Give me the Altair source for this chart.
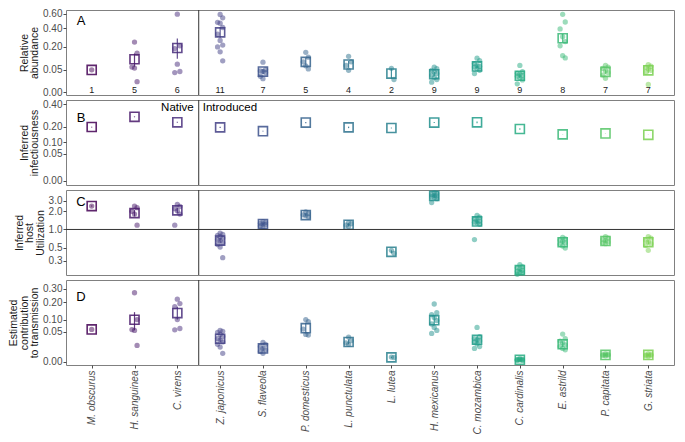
import json
import altair as alt
import pandas as pd

species = ["M. obscurus", "H. sanguinea", "C. virens", "Z. japonicus", "S. flaveola",
           "P. domesticus", "L. punctulata", "L. lutea", "H. mexicanus", "C. mozambica",
           "C. cardinalis", "E. astrild", "P. capitata", "G. striata"]
counts = [1, 5, 6, 11, 7, 5, 4, 2, 9, 9, 9, 8, 7, 7]

# Panel A: relative abundance
abund_pts = [
    [0.049],
    [0.245, 0.149, 0.062, 0.057, 0.011],
    [0.593, 0.21, 0.186, 0.077, 0.042, 0.038],
    [0.588, 0.539, 0.476, 0.463, 0.408, 0.33, 0.261, 0.217, 0.2, 0.159, 0.096],
    [0.088, 0.05, 0.045, 0.042, 0.038, 0.025, 0.018],
    [0.155, 0.12, 0.09, 0.068, 0.053],
    [0.126, 0.09, 0.07, 0.047],
    [0.056, 0.016],
    [0.062, 0.054, 0.047, 0.04, 0.034, 0.028, 0.021, 0.016, 0.01],
    [0.113, 0.098, 0.08, 0.07, 0.065, 0.062, 0.054, 0.047, 0.034],
    [0.07, 0.041, 0.035, 0.032, 0.027, 0.025, 0.02, 0.015, 0.007],
    [0.59, 0.48, 0.39, 0.3, 0.25, 0.21, 0.13, 0.115],
    [0.07, 0.062, 0.055, 0.045, 0.038, 0.029, 0.019],
    [0.074, 0.066, 0.06, 0.053, 0.047, 0.04, 0.006],
]
abund_mean = [0.0486, 0.106, 0.191, 0.349, 0.0417, 0.09, 0.075, 0.0342, 0.0318, 0.065, 0.0266, 0.284, 0.0405, 0.047]
abund_lo = [0.0486, 0.064, 0.11, 0.29, 0.033, 0.07, 0.058, 0.018, 0.025, 0.055, 0.02, 0.24, 0.033, 0.035]
abund_hi = [0.0486, 0.146, 0.28, 0.41, 0.052, 0.115, 0.095, 0.054, 0.04, 0.076, 0.034, 0.33, 0.05, 0.062]

# Panel B: inferred infectiousness
infect_mean = [0.197, 0.279, 0.233, 0.1945, 0.168, 0.231, 0.1945, 0.19, 0.231, 0.233, 0.183, 0.147, 0.153, 0.144]
infect_lo = [0.194, 0.275, 0.229, 0.19, 0.165, 0.226, 0.189, 0.187, 0.227, 0.226, 0.178, 0.146, 0.152, 0.143]
infect_hi = [0.2, 0.283, 0.237, 0.199, 0.171, 0.236, 0.2, 0.193, 0.235, 0.24, 0.188, 0.148, 0.154, 0.145]

# Panel C: inferred host utilization
util_pts = [
    [2.45],
    [2.45, 2.3, 2.0, 1.8, 1.18],
    [2.6, 2.41, 2.22, 2.04, 1.8, 1.18],
    [0.87, 0.83, 0.8, 0.76, 0.72, 0.68, 0.65, 0.6, 0.56, 0.51, 0.34],
    [1.35, 1.3, 1.27, 1.23, 1.2, 1.15, 1.1],
    [1.95, 1.85, 1.75, 1.7, 1.62],
    [1.3, 1.25, 1.18, 1.12],
    [0.45, 0.4],
    [4.1, 3.95, 3.8, 3.7, 3.6, 3.5, 3.4, 3.25, 2.8],
    [1.72, 1.6, 1.5, 1.42, 1.38, 1.32, 1.28, 1.22, 0.68],
    [0.26, 0.24, 0.23, 0.22, 0.21, 0.2, 0.195, 0.19, 0.18],
    [0.74, 0.7, 0.67, 0.64, 0.6, 0.57, 0.53, 0.49],
    [0.76, 0.72, 0.68, 0.65, 0.62, 0.6, 0.58],
    [0.76, 0.72, 0.66, 0.62, 0.58, 0.54, 0.45],
]
util_mean = [2.45, 1.87, 2.08, 0.653, 1.23, 1.735, 1.2, 0.425, 3.62, 1.36, 0.211, 0.614, 0.644, 0.614]
util_lo = [2.4, 1.65, 1.85, 0.6, 1.18, 1.65, 1.13, 0.4, 3.4, 1.22, 0.2, 0.57, 0.61, 0.57]
util_hi = [2.5, 2.1, 2.3, 0.71, 1.28, 1.82, 1.27, 0.45, 3.85, 1.5, 0.222, 0.66, 0.68, 0.66]

# Panel D: estimated contribution to transmission
contrib_pts = [
    [0.0586],
    [0.267, 0.1, 0.058, 0.055, 0.015],
    [0.22, 0.19, 0.17, 0.10, 0.062, 0.057],
    [0.055, 0.052, 0.048, 0.042, 0.036, 0.03, 0.026, 0.022, 0.017, 0.012, 0.004],
    [0.021, 0.017, 0.013, 0.01, 0.008, 0.006, 0.004],
    [0.1, 0.09, 0.06, 0.042, 0.04],
    [0.034, 0.025, 0.02, 0.017],
    [0.0012, 0.001],
    [0.187, 0.135, 0.125, 0.11, 0.095, 0.08, 0.066, 0.055, 0.045],
    [0.066, 0.035, 0.03, 0.027, 0.025, 0.022, 0.018, 0.013, 0.01],
    [0.0006, 0.0004, 0.0003, 0.0003, 0.0002, 0.0002, 0.0002, 0.0001, 0.0001],
    [0.043, 0.03, 0.024, 0.02, 0.016, 0.013, 0.01, 0.008],
    [0.0035, 0.003, 0.0028, 0.0026, 0.0024, 0.0022, 0.002],
    [0.0035, 0.003, 0.0027, 0.0025, 0.0022, 0.002, 0.0015],
]
contrib_mean = [0.0586, 0.0988, 0.133, 0.0296, 0.0099, 0.0632, 0.0219, 0.00106, 0.097, 0.0271, 0.00023, 0.0171, 0.0026, 0.0026]
contrib_lo = [0.0586, 0.056, 0.1, 0.022, 0.007, 0.045, 0.017, 0.0008, 0.075, 0.018, 0.0001, 0.012, 0.002, 0.0018]
contrib_hi = [0.0586, 0.138, 0.17, 0.038, 0.013, 0.085, 0.028, 0.0014, 0.12, 0.037, 0.0004, 0.023, 0.0032, 0.0034]

W = 608
H = 85
FONT = "Liberation Sans"
XDOM = [-0.6, 13.6]


def points_df(pts):
    rows = []
    for i, vals in enumerate(pts):
        for v in vals:
            rows.append({"idx": i, "value": v})
    return pd.DataFrame(rows)


def summary_df(mean, lo, hi):
    return pd.DataFrame({"idx": list(range(len(species))), "mean": mean, "lo": lo, "hi": hi,
                         "n": [str(c) for c in counts], "zero": [0.0] * len(species)})


color = alt.Color("idx:Q", scale=alt.Scale(scheme="viridis", domain=[0, 16.25]), legend=None)

x_axis_bottom = alt.Axis(values=list(range(len(species))),
                         labelExpr=json.dumps(species) + "[datum.value]",
                         labelAngle=270, labelFontStyle="italic", labelFontSize=10,
                         labelColor="#4d4d4d", labelOverlap=False, labelFlush=False,
                         labelPadding=2, tickSize=3, tickColor="#4d4d4d",
                         domain=False, grid=False, title=None)


def yaxis(values, fmt, title):
    return alt.Axis(values=values, format=fmt, title=title, grid=False, domain=False,
                    tickSize=3, tickColor="#4d4d4d", labelColor="#4d4d4d", labelFontSize=10,
                    labelPadding=1, titleFontSize=10.5, titleFontWeight="normal",
                    titleColor="#1a1a1a", titlePadding=3)


def panel(pts, mean, lo, hi, scale, axis, letter, letter_y, bottom=False, hline=None, labels=False,
          counts_row=False):

    def X(field):
        sc = alt.Scale(domain=XDOM, nice=False, zero=False)
        if bottom:
            return alt.X(field, scale=sc, axis=x_axis_bottom)
        return alt.X(field, scale=sc, axis=None)

    def Y(field):
        return alt.Y(field, scale=scale, axis=axis)

    summ = summary_df(mean, lo, hi)
    layers = []
    if pts is not None:
        # small deterministic horizontal jitter, like geom_jitter in the original
        layers.append(alt.Chart(points_df(pts)).transform_window(
            rn="row_number()", groupby=["idx"]
        ).transform_calculate(
            jx="datum.idx + ((datum.rn % 3) - 1) * 0.06"
        ).mark_circle(size=28, opacity=0.5).encode(
            x=X("jx:Q"), y=Y("value:Q"), color=color))
    base = alt.Chart(summ)
    layers.append(base.mark_rule(strokeWidth=1.2, opacity=0.85).encode(
        x=X("idx:Q"), y=Y("lo:Q"), y2="hi:Q", color=color))
    layers.append(base.mark_point(shape="square", filled=False, size=82, strokeWidth=1.6,
                                  opacity=0.85).encode(x=X("idx:Q"), y=Y("mean:Q"), color=color))
    if counts_row:
        layers.append(base.mark_text(fontSize=9, font=FONT, color="#1a1a1a", baseline="middle",
                                     dy=-2).encode(x=X("idx:Q"), y=Y("zero:Q"), text="n:N"))
    div_df = pd.DataFrame({"d": [2.5], "native": ["Native"], "intro": ["Introduced"]})
    layers.append(alt.Chart(div_df).mark_rule(color="#333333", strokeWidth=1).encode(x=X("d:Q")))
    if hline is not None:
        layers.append(alt.Chart(pd.DataFrame({"o": [hline]})).mark_rule(
            color="#333333", strokeWidth=1).encode(y=Y("o:Q")))
    if labels:
        layers.append(alt.Chart(div_df).mark_text(
            fontSize=11.5, font=FONT, color="black", align="right", baseline="middle", dx=-5).encode(
            x=X("d:Q"), y=alt.value(8), text="native:N"))
        layers.append(alt.Chart(div_df).mark_text(
            fontSize=11.5, font=FONT, color="black", align="left", baseline="middle", dx=4).encode(
            x=X("d:Q"), y=alt.value(8), text="intro:N"))
    layers.append(alt.Chart(pd.DataFrame({"t": [letter]})).mark_text(
        fontSize=13, font=FONT, color="black", align="center", baseline="middle").encode(
        text="t:N", x=alt.value(15), y=alt.value(letter_y)))
    return alt.layer(*layers).properties(width=W, height=H)


scaleA = alt.Scale(type="sqrt", domain=[-0.0007, 0.658], nice=False, zero=False)
axisA = yaxis([0, 0.05, 0.2, 0.4, 0.6], ".2f", ["Relative", "abundance"])
pA = panel(abund_pts, abund_mean, abund_lo, abund_hi, scaleA, axisA, "A", 11, counts_row=True)

scaleB = alt.Scale(type="sqrt", domain=[-0.0012, 0.445], nice=False, zero=False)
axisB = yaxis([0, 0.05, 0.1, 0.2, 0.4], ".2f", ["Inferred", "infectiousness"])
pB = panel(None, infect_mean, infect_lo, infect_hi, scaleB, axisB, "B", 18, labels=True)

scaleC = alt.Scale(type="log", domain=[0.175, 4.53], nice=False)
axisC = yaxis([0.3, 0.5, 1.0, 2.0, 3.0], ".1f", ["Inferred", "host", "Utilization"])
pC = panel(util_pts, util_mean, util_lo, util_hi, scaleC, axisC, "C", 12, hline=1.0)

scaleD = alt.Scale(type="sqrt", domain=[-0.0006, 0.375], nice=False, zero=False)
axisD = yaxis([0, 0.05, 0.1, 0.2, 0.3], ".2f", ["Estimated", "contribution", "to transmission"])
pD = panel(contrib_pts, contrib_mean, contrib_lo, contrib_hi, scaleD, axisD, "D", 17, bottom=True)

chart = alt.vconcat(pA, pB, pC, pD, spacing=5, bounds="flush").configure(
    font=FONT, padding={"left": 0, "top": 0, "right": 1, "bottom": 0}
).configure_view(stroke="#808080", strokeWidth=1).configure_axis(
    labelFont=FONT, titleFont=FONT, titleLineHeight=10.5)

chart.save("out.html", embed_options={"renderer": "svg", "actions": False})
